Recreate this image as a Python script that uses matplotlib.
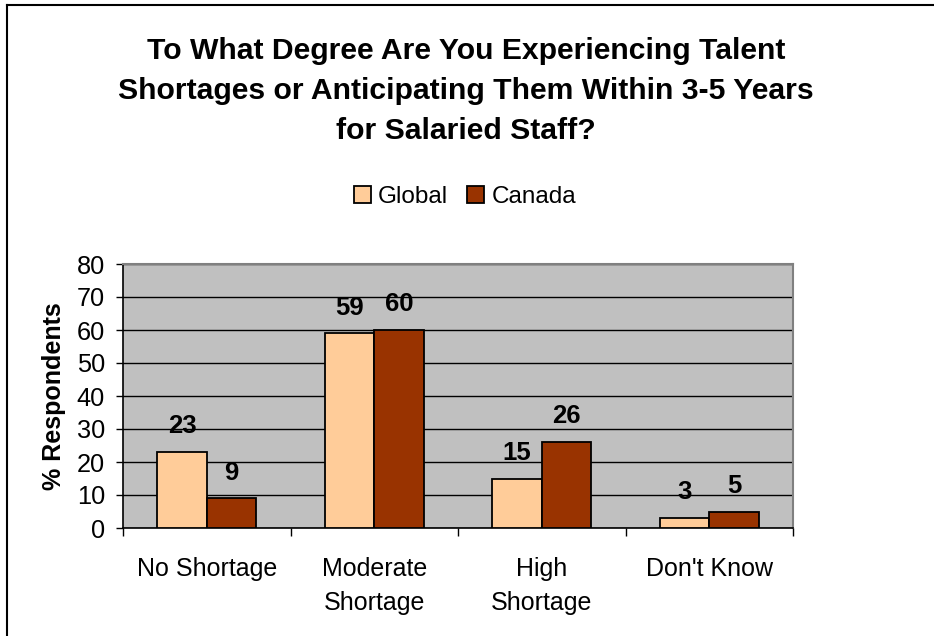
import matplotlib
matplotlib.use("Agg")
import numpy as np
import matplotlib.pyplot as plt
from matplotlib.lines import Line2D
from matplotlib.patches import Rectangle

plt.rcParams["font.family"] = ["Liberation Sans", "DejaVu Sans"]

categories = ["No Shortage", "Moderate\nShortage", "High\nShortage", "Don't Know"]
series_names = ["Global", "Canada"]
global_vals = [23, 59, 15, 3]
canada_vals = [9, 60, 26, 5]
colors = ["#FFCC99", "#993300"]

W, H, DPI = 934, 636, 100
fig = plt.figure(figsize=(W / DPI, H / DPI), dpi=DPI)
fig.patch.set_facecolor("white")

# plot area in pixel coordinates
left, right, top, bottom = 123, 793, 264, 528
ax = fig.add_axes([left / W, 1 - bottom / H, (right - left) / W, (bottom - top) / H])
ax.set_facecolor("#C0C0C0")

x = np.arange(len(categories))
bw = 0.295
for vals, off, col in [(global_vals, -bw / 2, colors[0]), (canada_vals, bw / 2, colors[1])]:
    bars = ax.bar(x + off, vals, width=bw, color=col, edgecolor="black", linewidth=1.3, zorder=3)
    for b, v in zip(bars, vals):
        ax.annotate(str(v), (b.get_x() + b.get_width() / 2, v), xytext=(0, 13.5),
                    textcoords="offset points", ha="center", va="baseline",
                    fontsize=18.5, fontweight="bold", zorder=4)

ax.set_xlim(-0.5, len(categories) - 0.5)
ax.set_ylim(0, 80)
ax.set_yticks(np.arange(0, 81, 10))
ax.yaxis.grid(True, color="black", linewidth=1.0, zorder=1)
ax.set_axisbelow(True)

ax.set_xticks(x)
ax.set_xticklabels(categories, fontsize=18, va="top", linespacing=1.5)
ax.set_xticks(np.arange(-0.5, len(categories)), minor=True)
ax.tick_params(axis="x", which="major", length=0, pad=21)
ax.tick_params(axis="x", which="minor", length=6, width=1, direction="out", color="black")
ax.tick_params(axis="y", length=5, width=1, direction="out", labelsize=18.3, pad=8)

for side in ["top", "right"]:
    ax.spines[side].set_color("#808080")
    ax.spines[side].set_linewidth(1.5)
for side in ["left", "bottom"]:
    ax.spines[side].set_color("black")
    ax.spines[side].set_linewidth(1.2)

ax.set_ylabel("% Respondents", fontsize=18, fontweight="bold", labelpad=8)

fig.text(466 / W, 1 - 91 / H,
         "To What Degree Are You Experiencing Talent\n"
         "Shortages or Anticipating Them Within 3-5 Years\n"
         "for Salaried Staff?",
         ha="center", va="center", fontsize=21.7, fontweight="bold", linespacing=1.54)

handles = [Rectangle((0, 0), 1, 1, facecolor=c, edgecolor="black", linewidth=1.3) for c in colors]
fig.legend(handles, series_names, loc="center", bbox_to_anchor=(465 / W, 1 - 197 / H),
           ncol=2, frameon=False, fontsize=17.5, handlelength=0.7, handleheight=0.7,
           handletextpad=0.3, columnspacing=0.8)

# outer frame, only the top and left edges fall inside the image
fig.add_artist(Line2D([7 / W, 1], [1 - 5 / H, 1 - 5 / H], color="black", linewidth=1.5))
fig.add_artist(Line2D([7 / W, 7 / W], [0, 1 - 5 / H], color="black", linewidth=1.5))

fig.savefig("out.png", dpi=DPI)
